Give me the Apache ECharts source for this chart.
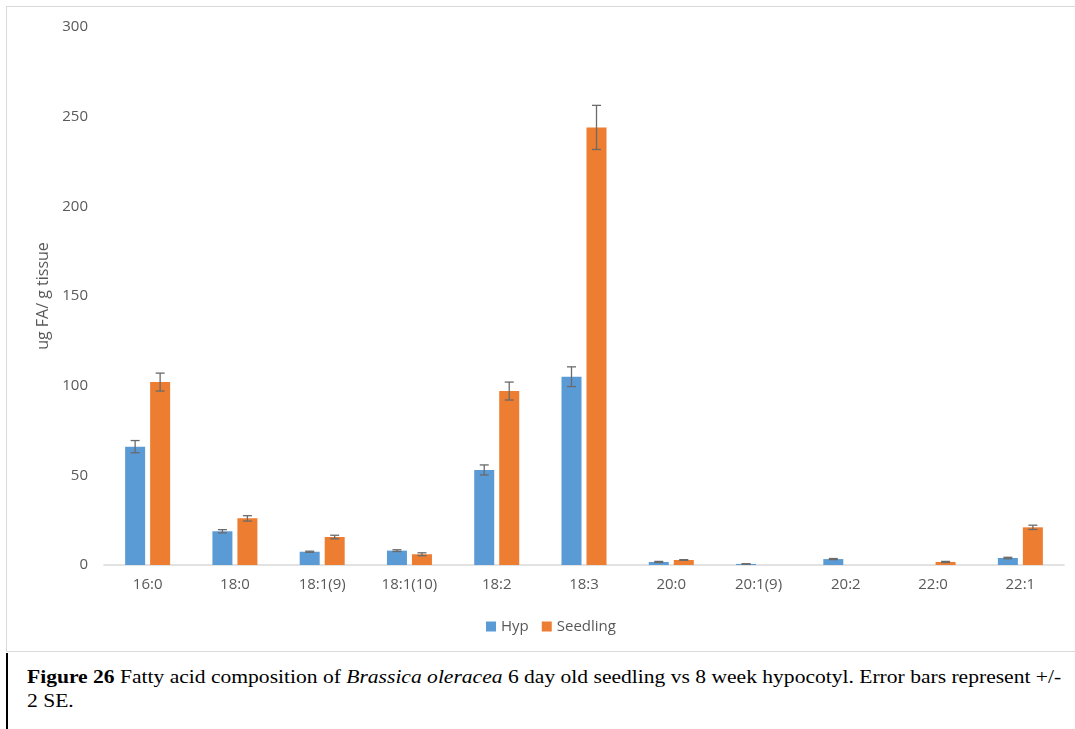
<!DOCTYPE html>
<html>
<head>
<meta charset="utf-8">
<script src="https://cdn.jsdelivr.net/npm/echarts@6/dist/echarts.min.js"></script>
<style>
  html, body { margin: 0; padding: 0; background: #fff; width: 1075px; height: 729px; overflow: hidden; }
  #frame { position: absolute; left: 6px; top: 6px; width: 1080px; height: 646px; border: 1.5px solid #d9d9d9; box-sizing: border-box; }
  #capbox { position: absolute; left: 6px; top: 653px; width: 1080px; height: 80px; border-left: 2px solid #000; box-sizing: border-box; }
  #caption { position: absolute; left: 27px; top: 665px; font-family: "Liberation Serif", "Times New Roman", serif; font-size: 18.5px; line-height: 24px; color: #000; white-space: nowrap; transform: scaleX(1.165); transform-origin: 0 0; }
  #chart { position: absolute; left: 0; top: 0; width: 1075px; height: 729px; }
</style>
</head>
<body>
<div id="frame"></div>
<div id="capbox"></div>
<div id="caption"><b>Figure 26</b> Fatty acid composition of <i>Brassica oleracea</i> 6 day old seedling vs 8 week hypocotyl. Error bars represent +/-<br>2 SE.</div>
<div id="chart"></div>
<script>
const categories = ['16:0', '18:0', '18:1(9)', '18:1(10)', '18:2', '18:3', '20:0', '20:1(9)', '20:2', '22:0', '22:1'];
const hypValues = [66, 18.8, 7.4, 8, 53, 105, 1.7, 0.6, 3.3, 0, 3.9];
const hypErrors = [3.4, 0.9, 0.3, 0.5, 2.8, 5.5, 0.3, 0.1, 0.3, 0, 0.4];
const seedlingValues = [102, 26, 15.6, 6, 97, 244, 2.8, 0, 0, 1.7, 21];
const seedlingErrors = [5, 1.5, 1, 0.8, 5, 12.3, 0.2, 0, 0, 0.3, 1.2];
const yTicks = { min: 0, max: 300, interval: 50 };

const BAR_W = 20, BAR_GAP = 5;
const offHyp = -(BAR_W + BAR_GAP) / 2;
const offSeed = (BAR_W + BAR_GAP) / 2;

function errRender(offset) {
  return function (params, api) {
    const i = api.value(0), v = api.value(1), e = api.value(2);
    if (!(v > 0)) return null;
    const hi = api.coord([i, v + e]);
    const lo = api.coord([i, v - e]);
    const x = hi[0] + offset;
    const cap = 4.5;
    const st = { stroke: '#6a6a6a', lineWidth: 1.3 };
    return {
      type: 'group',
      children: [
        { type: 'line', shape: { x1: x, y1: hi[1], x2: x, y2: lo[1] }, style: st },
        { type: 'line', shape: { x1: x - cap, y1: hi[1], x2: x + cap, y2: hi[1] }, style: st },
        { type: 'line', shape: { x1: x - cap, y1: lo[1], x2: x + cap, y2: lo[1] }, style: st }
      ]
    };
  };
}

const chart = echarts.init(document.getElementById('chart'));
const font = '"Open Sans", "Noto Sans", sans-serif';
chart.setOption({
  animation: false,
  textStyle: { fontFamily: font },
  grid: { left: 104, right: 11, top: 27, bottom: 164, containLabel: false },
  legend: {
    data: ['Hyp', 'Seedling'],
    top: 614, left: 481,
    icon: 'rect', itemWidth: 10, itemHeight: 10, itemGap: 13,
    textStyle: { color: '#595959', fontSize: 15, fontFamily: font }
  },
  xAxis: {
    type: 'category',
    data: categories,
    axisTick: { show: false },
    axisLine: { lineStyle: { color: '#d9d9d9', width: 1.5 } },
    axisLabel: { color: '#595959', fontSize: 15, margin: 12, fontFamily: font }
  },
  yAxis: {
    type: 'value',
    min: yTicks.min, max: yTicks.max, interval: yTicks.interval,
    name: 'ug FA/ g tissue',
    nameLocation: 'middle',
    nameGap: 52,
    nameTextStyle: { color: '#595959', fontSize: 16, fontFamily: font },
    splitLine: { show: false },
    axisLine: { show: false },
    axisTick: { show: false },
    axisLabel: { color: '#595959', fontSize: 15, margin: 16, fontFamily: font }
  },
  series: [
    {
      name: 'Hyp', type: 'bar', data: hypValues.map(v => v === 0 ? '-' : v),
      barWidth: BAR_W, barGap: (BAR_GAP / BAR_W * 100) + '%',
      itemStyle: { color: '#5b9bd5' }
    },
    {
      name: 'Seedling', type: 'bar', data: seedlingValues.map(v => v === 0 ? '-' : v),
      barWidth: BAR_W,
      itemStyle: { color: '#ed7d31' }
    },
    {
      name: 'HypErr', type: 'custom', z: 5,
      data: categories.map((c, i) => [i, hypValues[i], hypErrors[i]]),
      renderItem: errRender(offHyp)
    },
    {
      name: 'SeedErr', type: 'custom', z: 5,
      data: categories.map((c, i) => [i, seedlingValues[i], seedlingErrors[i]]),
      renderItem: errRender(offSeed)
    }
  ]
});
</script>
</body>
</html>
